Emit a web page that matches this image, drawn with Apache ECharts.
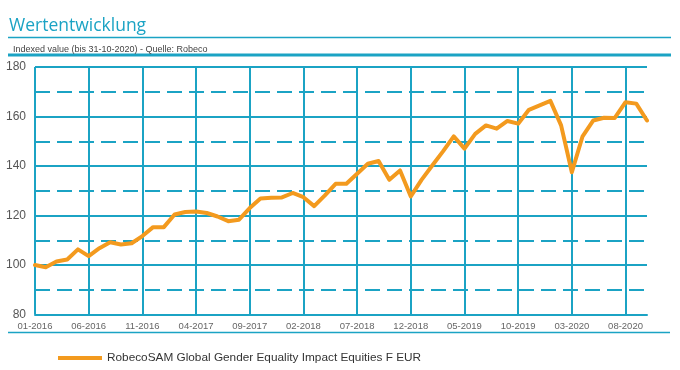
<!DOCTYPE html>
<html>
<head>
<meta charset="utf-8">
<script src="https://cdn.jsdelivr.net/npm/echarts@6/dist/echarts.min.js"></script>
<style>
html,body{margin:0;padding:0;background:#fff;}
#chart{width:680px;height:370px;}
</style>
</head>
<body>
<div id="chart"></div>
<script>
const titleText = 'Wertentwicklung';
const subtitleText = 'Indexed value (bis 31-10-2020) - Quelle: Robeco';
const seriesName = 'RobecoSAM Global Gender Equality Impact Equities F EUR';

const categories = [
  '01-2016','02-2016','03-2016','04-2016','05-2016','06-2016','07-2016','08-2016','09-2016','10-2016','11-2016','12-2016',
  '01-2017','02-2017','03-2017','04-2017','05-2017','06-2017','07-2017','08-2017','09-2017','10-2017','11-2017','12-2017',
  '01-2018','02-2018','03-2018','04-2018','05-2018','06-2018','07-2018','08-2018','09-2018','10-2018','11-2018','12-2018',
  '01-2019','02-2019','03-2019','04-2019','05-2019','06-2019','07-2019','08-2019','09-2019','10-2019','11-2019','12-2019',
  '01-2020','02-2020','03-2020','04-2020','05-2020','06-2020','07-2020','08-2020','09-2020','10-2020'
];

const values = [
  100.0, 99.1, 101.4, 102.2, 106.3, 103.6, 106.8, 109.2, 108.3, 108.8,
  111.7, 115.3, 115.3, 120.4, 121.4, 121.6, 121.0, 119.6, 117.7, 118.3,
  123.0, 126.9, 127.2, 127.3, 129.1, 127.4, 123.8, 128.1, 132.8, 132.8,
  136.9, 140.9, 142.0, 134.4, 138.2, 127.7, 134.4, 140.2, 145.9, 152.0,
  147.0, 153.0, 156.4, 155.1, 158.2, 157.1, 162.7, 164.5, 166.3, 156.4,
  137.5, 152.0, 158.4, 159.5, 159.4, 165.8, 165.2, 158.4
];

const yMin = 80, yMax = 180, yStep = 20;

const TEAL = '#1ba3c4';
const ORANGE = '#f39a1e';
const SANS = "'Liberation Sans', Arial, sans-serif";

const chart = echarts.init(document.getElementById('chart'), null, {renderer: 'canvas'});
chart.setOption({
  animation: false,
  backgroundColor: '#ffffff',
  title: [
    {text: titleText, left: 4, top: 12,
     textStyle: {fontFamily: "'Open Sans', sans-serif", fontSize: 17.5, fontWeight: 'normal', color: TEAL}},
    {text: subtitleText, left: 8, top: 40,
     textStyle: {fontFamily: SANS, fontSize: 9, fontWeight: 'normal', color: '#444'}}
  ],
  graphic: [
    {type: 'line', shape: {x1: 8, y1: 37.5, x2: 671, y2: 37.5}, style: {stroke: TEAL, lineWidth: 1.5}},
    {type: 'line', shape: {x1: 8, y1: 55, x2: 671, y2: 55}, style: {stroke: TEAL, lineWidth: 3}},
    {type: 'line', shape: {x1: 8, y1: 332.5, x2: 670, y2: 332.5}, style: {stroke: TEAL, lineWidth: 1.5}}
  ],
  legend: {
    data: [seriesName],
    left: 58, top: 352, padding: 0,
    icon: 'rect', itemWidth: 44, itemHeight: 4, itemGap: 10,
    textStyle: {fontFamily: SANS, fontSize: 11.8, color: '#333'}
  },
  grid: {left: 35, right: 33, top: 67, bottom: 55.5, containLabel: false},
  xAxis: {
    type: 'category',
    data: categories,
    boundaryGap: false,
    axisLine: {show: true, lineStyle: {color: TEAL, width: 2}},
    axisTick: {show: false},
    axisLabel: {interval: 4, margin: 7, fontFamily: SANS, fontSize: 9.5, color: '#666'},
    splitLine: {show: true, interval: 4, lineStyle: {color: TEAL, width: 2}}
  },
  yAxis: {
    type: 'value',
    min: yMin, max: yMax, interval: yStep,
    axisLine: {show: false},
    axisTick: {show: false},
    axisLabel: {margin: 9, fontFamily: SANS, fontSize: 12, color: '#555'},
    splitLine: {show: true, lineStyle: {color: TEAL, width: 2}},
    minorTick: {show: false, splitNumber: 2},
    minorSplitLine: {show: true, lineStyle: {color: TEAL, width: 2, type: [15, 7]}}
  },
  series: [{
    name: seriesName,
    type: 'line',
    data: values,
    symbol: 'none',
    smooth: false,
    color: ORANGE,
    lineStyle: {color: ORANGE, width: 4, join: 'round', cap: 'round'},
    z: 5
  }]
});
</script>
</body>
</html>
